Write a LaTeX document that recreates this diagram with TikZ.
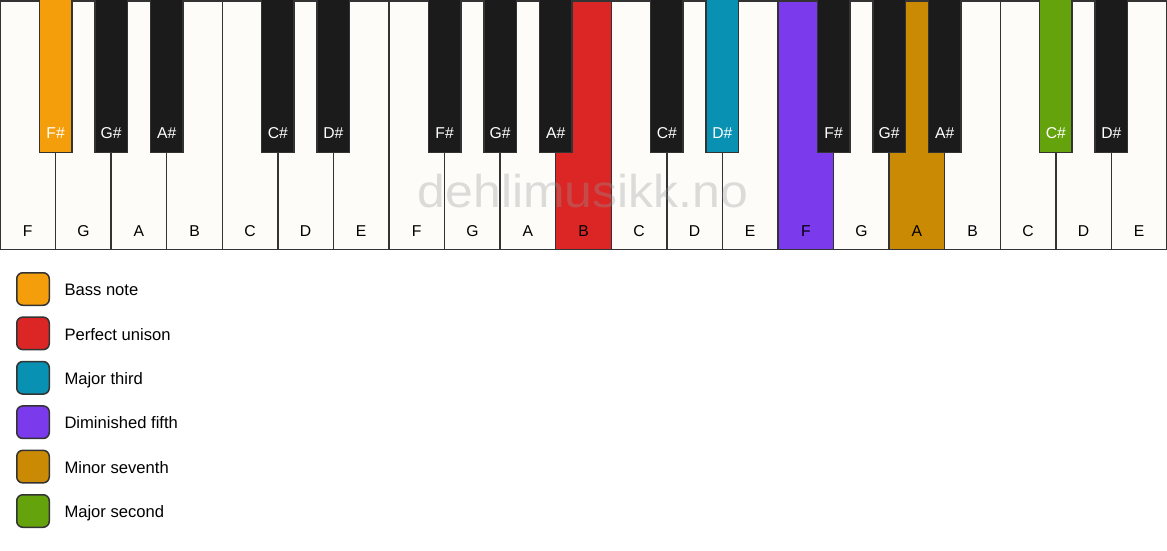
\documentclass[tikz,border=0pt]{standalone}
\usepackage{fontspec}
\setmainfont{Liberation Sans}
\usepackage{graphicx}
\definecolor{keywhite}{HTML}{FDFCF9}
\definecolor{keyblack}{HTML}{1B1B1B}
\definecolor{keyline}{HTML}{333333}
\definecolor{wmgray}{HTML}{969696}
\definecolor{cbass}{HTML}{F59E0B}
\definecolor{cunison}{HTML}{DC2626}
\definecolor{cthird}{HTML}{0891B2}
\definecolor{cfifth}{HTML}{7C3AED}
\definecolor{cseventh}{HTML}{CA8A04}
\definecolor{csecond}{HTML}{65A30D}
\begin{document}
\begin{tikzpicture}[x=1pt,y=-1pt,
  whitekey/.style={draw=keyline, line width=1.5pt, inner sep=0pt, outer sep=0pt,
    minimum width=55.5714pt, minimum height=248.5pt},
  blackkey/.style={draw=keyline, line width=1.5pt, inner sep=0pt, outer sep=0pt,
    minimum width=32.5pt, minimum height=153.25pt},
  wlabel/.style={font=\fontsize{15.7}{16}\selectfont, text=black, inner sep=0pt,
    text height=11pt, text depth=0pt},
  blabel/.style={font=\fontsize{15.7}{16}\selectfont, text=white, inner sep=0pt,
    text height=11pt, text depth=0pt},
  swatch/.style={draw=keyline, line width=1.5pt, rounded corners=6pt,
    minimum width=32.5pt, minimum height=32.5pt, inner sep=0pt},
  legtext/.style={font=\fontsize{16.6}{18}\selectfont, anchor=west, inner sep=0pt,
    text height=11.9pt, text depth=0pt},
  watermark/.style={font=\fontsize{46}{46}\selectfont, text=wmgray, opacity=0.32,
    inner sep=0pt}]
\useasboundingbox (0,0) rectangle (1167,550);
\fill[white] (0,0) rectangle (1167,550);
% white keys
\foreach \n/\c [count=\i] in {F/keywhite,G/keywhite,A/keywhite,B/keywhite,C/keywhite,D/keywhite,E/keywhite,
  F/keywhite,G/keywhite,A/keywhite,B/cunison,C/keywhite,D/keywhite,E/keywhite,
  F/cfifth,G/keywhite,A/cseventh,B/keywhite,C/keywhite,D/keywhite,E/keywhite}{
  \node[whitekey, fill=\c] (wk\i) at ({(\i-0.5)*55.5714}, 125) {};
  \node[wlabel] (wl\i) at ({(\i-0.5)*55.5714}, 230.5) {\n};
}
% watermark
\node[watermark] (wm) at (583, 191.5) {\scalebox{1.085}[1]{dehlimusikk.no}};
% black keys
\foreach \b/\n/\c in {1/F\#/cbass,2/G\#/keyblack,3/A\#/keyblack,5/C\#/keyblack,6/D\#/keyblack,
  8/F\#/keyblack,9/G\#/keyblack,10/A\#/keyblack,12/C\#/keyblack,13/D\#/cthird,
  15/F\#/keyblack,16/G\#/keyblack,17/A\#/keyblack,19/C\#/csecond,20/D\#/keyblack}{
  \node[blackkey, fill=\c] (bk\b) at ({\b*55.5714}, 75.625) {};
  \node[blabel] (bl\b) at ({\b*55.5714}, 133) {\n};
}
% legend
\foreach \c/\t [count=\k] in {cbass/Bass note,cunison/Perfect unison,cthird/Major third,
  cfifth/Diminished fifth,cseventh/Minor seventh,csecond/Major second}{
  \node[swatch, fill=\c] (sw\k) at (33, {289+(\k-1)*44.4}) {};
  \node[legtext] (lt\k) at (64.3, {289.8+(\k-1)*44.4}) {\t};
}
\end{tikzpicture}
\end{document}
